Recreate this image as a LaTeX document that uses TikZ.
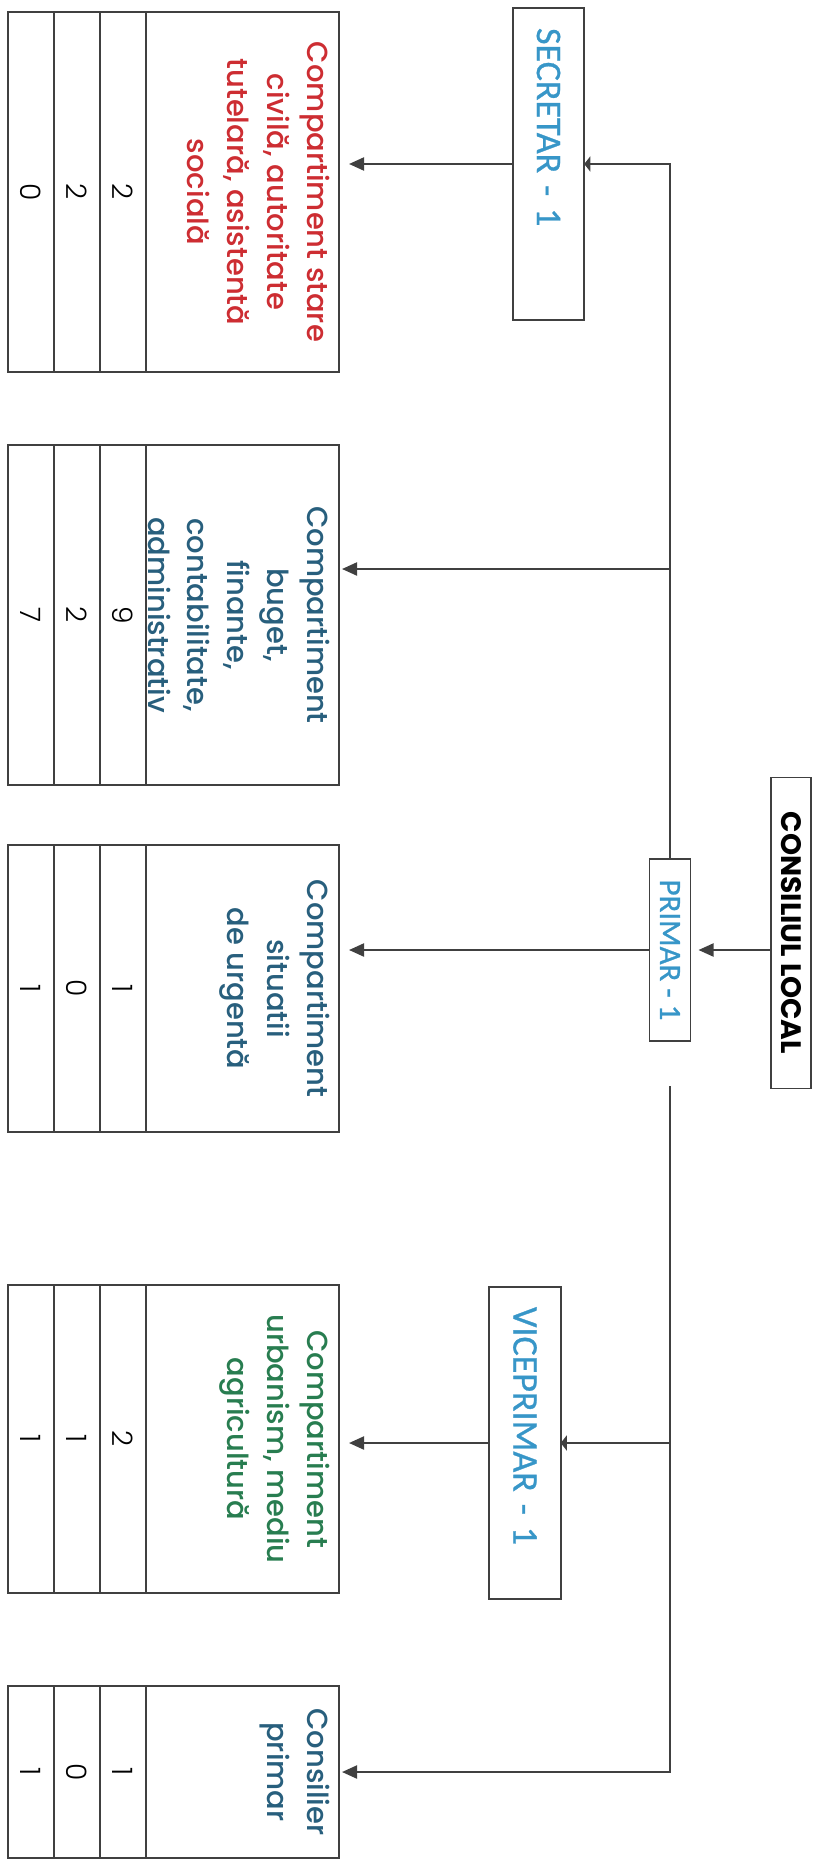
\documentclass[tikz,border=0pt]{standalone}
\usepackage{fontspec}
\setmainfont{Poppins}
\newfontfamily\numfont{Poppins Light}
\newfontfamily\compfont{Poppins Medium}
\newfontfamily\mgrfont{Carlito}[FakeBold=0.8]
\usetikzlibrary{arrows.meta}

\definecolor{compred}{RGB}{205,45,50}
\definecolor{compblue}{RGB}{40,95,125}
\definecolor{compgreen}{RGB}{40,125,80}
\definecolor{mgrblue}{RGB}{55,150,200}

\begin{document}
\begin{tikzpicture}[
    line width=1.2pt, draw=black!75,
    >={Triangle[length=0.3cm,width=0.26cm]},
    every node/.style={rotate=-90},
    box/.style={draw=black!75, line width=1.1pt, fill=white, outer sep=0pt},
    council/.style={box, minimum width=6.22cm, minimum height=0.8cm, font=\bfseries\fontsize{16}{19}\selectfont},
    mgr/.style={box, text=mgrblue, font=\mgrfont\fontsize{20.5}{24}\selectfont},
    longbox/.style={minimum height=1.43cm, text width=5.44cm, align=left, inner xsep=0.4cm},
    comp/.style={box, minimum height=3.86cm, inner sep=0pt},
    ctext/.style={anchor=north, align=center, inner sep=0.16cm, font=\compfont\fontsize{16.5}{22.7}\selectfont},
    cell/.style={box, anchor=north, minimum height=0.92cm, inner sep=0pt, font=\numfont\fontsize{16}{18}\selectfont},
    flat/.style={-{Triangle[length=0.12cm,width=0.3cm]}}
  ]
    \useasboundingbox (0,0) rectangle (16.38,-37.3);

    % Consiliul local and primar
    \node[council] (CL) at (15.82,-18.66) {CONSILIUL LOCAL};
    \node[mgr, minimum width=3.64cm, minimum height=0.82cm, font=\mgrfont\fontsize{17.6}{20}\selectfont] (PR) at (13.4,-19) {PRIMAR - 1};

    % Secretar and viceprimar
    \node[mgr, longbox] (SE) at (10.97,-3.28)  {SECRETAR - 1};
    \node[mgr, longbox] (VP) at (10.5,-28.86)  {VICEPRIMAR - 1};

    % Compartiment stare civila
    \node[comp, minimum width=7.2cm] (C1) at (4.85,-3.84) {};
    \node[ctext, text=compred] (C1t) at (C1.north) {Compartiment stare\\civilă, autoritate\\tutelară, asistentă\\socială};
    \node[cell, minimum width=7.2cm] (C1a) at (C1.south)  {2};
    \node[cell, minimum width=7.2cm] (C1b) at (C1a.south) {2};
    \node[cell, minimum width=7.2cm] (C1c) at (C1b.south) {0};

    % Compartiment buget
    \node[comp, minimum width=6.8cm] (C2) at (4.85,-12.3) {};
    \node[ctext, text=compblue] (C2t) at (C2.north) {Compartiment\\buget,\\finante,\\contabilitate,\\administrativ};
    \node[cell, minimum width=6.8cm] (C2a) at (C2.south)  {9};
    \node[cell, minimum width=6.8cm] (C2b) at (C2a.south) {2};
    \node[cell, minimum width=6.8cm] (C2c) at (C2b.south) {7};

    % Compartiment situatii de urgenta
    \node[comp, minimum width=5.74cm] (C3) at (4.85,-19.77) {};
    \node[ctext, text=compblue] (C3t) at (C3.north) {Compartiment\\situatii\\de urgentă};
    \node[cell, minimum width=5.74cm] (C3a) at (C3.south)  {1};
    \node[cell, minimum width=5.74cm] (C3b) at (C3a.south) {0};
    \node[cell, minimum width=5.74cm] (C3c) at (C3b.south) {1};

    % Compartiment urbanism
    \node[comp, minimum width=6.16cm] (C4) at (4.85,-28.78) {};
    \node[ctext, text=compgreen] (C4t) at (C4.north) {Compartiment\\urbanism, mediu\\agricultură};
    \node[cell, minimum width=6.16cm] (C4a) at (C4.south)  {2};
    \node[cell, minimum width=6.16cm] (C4b) at (C4a.south) {1};
    \node[cell, minimum width=6.16cm] (C4c) at (C4b.south) {1};

    % Consilier primar
    \node[comp, minimum width=3.44cm] (C5) at (4.85,-35.44) {};
    \node[ctext, text=compblue] (C5t) at (C5.north) {Consilier\\primar};
    \node[cell, minimum width=3.44cm] (C5a) at (C5.south)  {1};
    \node[cell, minimum width=3.44cm] (C5b) at (C5a.south) {0};
    \node[cell, minimum width=3.44cm] (C5c) at (C5b.south) {1};

    % Branch points on the trunk
    \coordinate (T2) at (13.4,-11.38);
    \coordinate (TB) at (13.4,-21.72);

    % Edges
    \draw[->, shorten >=0.16cm] (CL.south |- PR.north) -- (PR.north);
    \draw[flat]                 (PR.west) |- (SE.north);
    \draw[->, shorten >=0.2cm]  (SE.south) -- (SE.south -| C1.north);
    \draw[->, shorten >=0.06cm] (T2) -- (T2 -| C2.north);
    \draw[->, shorten >=0.2cm]  (PR.south) -- (PR.south -| C3.north);
    \draw[->, shorten >=0.06cm] (TB) |- (C5.north);
    \draw[flat]                 (TB |- VP.north) -- (VP.north);
    \draw[->, shorten >=0.2cm]  (VP.south) -- (VP.south -| C4.north);
  \end{tikzpicture}
\end{document}
